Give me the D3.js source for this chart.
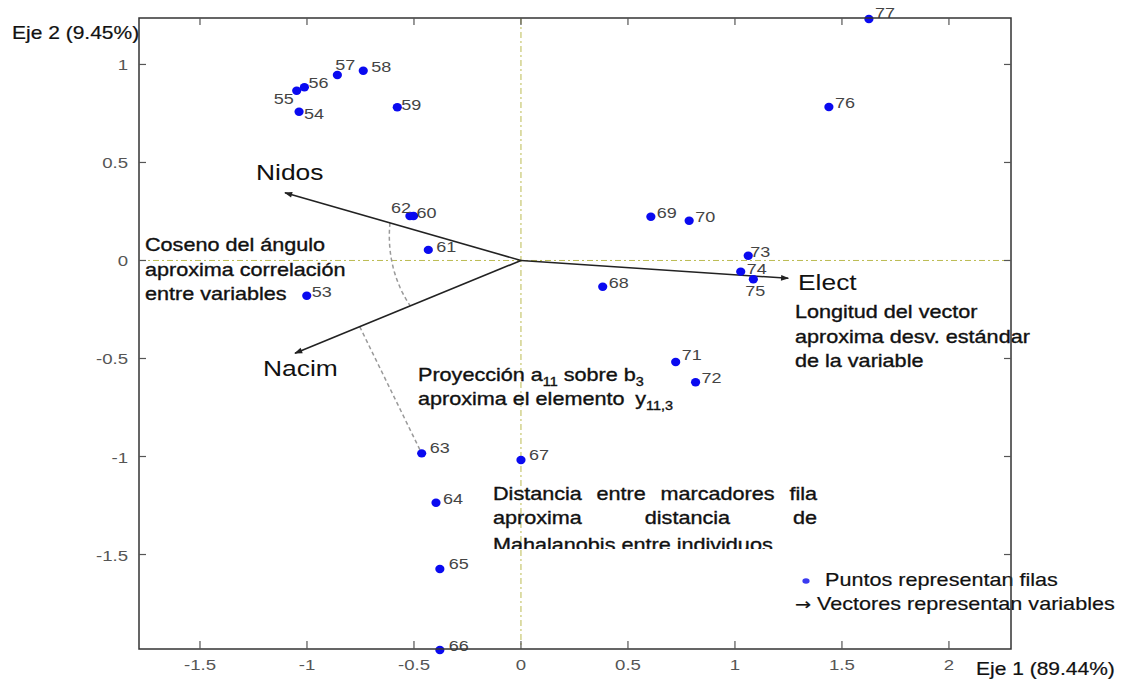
<!DOCTYPE html>
<html>
<head>
<meta charset="utf-8">
<script src="https://cdn.jsdelivr.net/npm/d3@7"></script>
<style>
  html, body { margin: 0; padding: 0; background: #fff; }
  svg { display: block; }
  text { font-family: "Liberation Sans", Arial, sans-serif; }
</style>
</head>
<body>
<svg id="chart" width="1124" height="679"></svg>
<script>
// ---------------- DATA ----------------
const rowIds = ["53","54","55","56","57","58","59","60","61","62","63","64","65","66","67","68","69","70","71","72","73","74","75","76","77"];
const eje1 = [-1.001,-1.037,-1.048,-1.012,-0.858,-0.737,-0.578,-0.502,-0.433,-0.519,-0.464,-0.397,-0.379,-0.379,0.000,0.382,0.607,0.786,0.723,0.816,1.062,1.027,1.086,1.439,1.626];
const eje2 = [-0.180,0.759,0.866,0.884,0.946,0.968,0.782,0.227,0.054,0.227,-0.984,-1.236,-1.574,-1.987,-1.018,-0.134,0.223,0.203,-0.518,-0.621,0.024,-0.057,-0.096,0.783,1.232];

const varNames = ["Nidos","Nacim","Elect"];
const varEje1 = [-1.103,-1.056,1.249];
const varEje2 = [0.346,-0.473,-0.091];

const xTicks = [-1.5,-1,-0.5,0,0.5,1,1.5,2];
const yTicks = [1,0.5,0,-0.5,-1,-1.5];
const xTickLabels = ["-1.5","-1","-0.5","0","0.5","1","1.5","2"];
const yTickLabels = ["1","0.5","0","-0.5","-1","-1.5"];

const xTitle = "Eje 1 (89.44%)";
const yTitle = "Eje 2 (9.45%)";

// ---------------- LAYOUT ----------------
const svg = d3.select("#chart");
const L = 139, R = 1011, T = 18, B = 649;
const x = d3.scaleLinear().domain([-1.785, 2.29]).range([L, R]);
const y = d3.scaleLinear().domain([-1.982, 1.237]).range([B, T]);
const SX = 1.2; // horizontal stretch of the original rendering

function txt(parent, px, py, str, o = {}) {
  const t = parent.append("text")
    .attr("transform", `translate(${px},${py}) scale(${SX},1)`)
    .attr("text-anchor", o.anchor || "start")
    .style("font-size", (o.size || 18) + "px")
    .style("fill", o.fill || "#111");
  if (o.stroke) t.style("stroke", o.fill || "#111").style("stroke-width", o.stroke);
  if (str !== null) t.text(str);
  return t;
}

const defs = svg.append("defs");
defs.append("marker").attr("id", "ah")
  .attr("viewBox", "0 -5 10 10").attr("refX", 9).attr("refY", 0)
  .attr("markerUnits", "userSpaceOnUse")
  .attr("markerWidth", 10).attr("markerHeight", 8).attr("orient", "auto")
  .append("path").attr("d", "M0,-3.6L10,0L0,3.6Z").attr("fill", "#222");
defs.append("clipPath").attr("id", "clipMaha")
  .append("rect").attr("x", 400).attr("y", 470).attr("width", 500).attr("height", 79);

// zero lines (dash-dot)
svg.append("line").attr("x1", x(0)).attr("x2", x(0)).attr("y1", T).attr("y2", B)
  .attr("stroke", "#bcbc52").attr("stroke-width", 1).attr("stroke-dasharray", "6,3,2,3");
svg.append("line").attr("x1", L).attr("x2", R).attr("y1", y(0)).attr("y2", y(0))
  .attr("stroke", "#bcbc52").attr("stroke-width", 1).attr("stroke-dasharray", "6,3,2,3");

// dashed angle arc between Nidos and Nacim (computed from the vectors, in pixel space)
const ox = x(0), oy = y(0);
function pv(i) { return [x(varEje1[i]) - ox, y(varEje2[i]) - oy]; }
const vN = pv(0), vM = pv(1);
const aN = Math.atan2(vN[1], vN[0]), aM = Math.atan2(vM[1], vM[0]);
const rN = Math.hypot(vN[0], vN[1]) * 0.555, rM = Math.hypot(vM[0], vM[1]) * 0.49;
let a0 = aN < 0 ? aN + 2 * Math.PI : aN, a1 = aM < 0 ? aM + 2 * Math.PI : aM;
const arcPts = d3.range(0, 1.0001, 0.05).map(f => {
  const a = a0 + (a1 - a0) * f, r = rN + (rM - rN) * f;
  return [ox + r * Math.cos(a), oy + r * Math.sin(a)];
});
svg.append("path").attr("d", d3.line()(arcPts)).attr("fill", "none")
  .attr("stroke", "#9a9a9a").attr("stroke-width", 1.5).attr("stroke-dasharray", "4,3");

// projection of row 63 onto Nacim
const i63 = rowIds.indexOf("63");
const px63 = eje1[i63], py63 = eje2[i63];
const dX = varEje1[1], dY = varEje2[1];
const tProj = (px63 * dX + py63 * dY) / (dX * dX + dY * dY);
svg.append("line")
  .attr("x1", x(tProj * dX)).attr("y1", y(tProj * dY))
  .attr("x2", x(px63)).attr("y2", y(py63))
  .attr("stroke", "#9a9a9a").attr("stroke-width", 1.5).attr("stroke-dasharray", "4,3");

// variable vectors
varNames.forEach((n, i) => {
  svg.append("line").attr("x1", x(0)).attr("y1", y(0))
    .attr("x2", x(varEje1[i])).attr("y2", y(varEje2[i]))
    .attr("stroke", "#222").attr("stroke-width", 1.6).attr("marker-end", "url(#ah)");
});

// points
const rows = rowIds.map((id, i) => ({ id, e1: eje1[i], e2: eje2[i] }));
svg.append("g").selectAll("ellipse").data(rows).join("ellipse")
  .attr("cx", d => x(d.e1)).attr("cy", d => y(d.e2))
  .attr("rx", 4.6).attr("ry", 4.2).attr("fill", "#0a0af0");

// point labels
const labelOffsets = {
  "55": { dx: -3, dy: 13, anchor: "end" }, "54": { dx: 5, dy: 7 }, "56": { dx: 4, dy: 1 },
  "57": { dx: -2, dy: -5 }, "58": { dx: 8, dy: 1 }, "59": { dx: 4, dy: 3 },
  "62": { dx: 1, dy: -3, anchor: "end" }, "60": { dx: 3, dy: 2 }, "61": { dx: 8, dy: 2 },
  "53": { dx: 5, dy: 1 }, "73": { dx: 2, dy: 1 }, "74": { dx: 6, dy: 2 },
  "75": { dx: -8, dy: 17 }, "63": { dx: 8, dy: 0 }, "67": { dx: 8, dy: 0 },
  "64": { dx: 7, dy: 1 }, "65": { dx: 9, dy: 0 }, "66": { dx: 9, dy: 1 },
  "71": { dx: 6, dy: -2 }, "77": { dx: 6, dy: -1 }
};
const gl = svg.append("g");
rows.forEach(d => {
  const o = labelOffsets[d.id] || { dx: 6, dy: 1 };
  txt(gl, x(d.e1) + o.dx, y(d.e2) + o.dy, d.id, { size: 15, fill: "#444", anchor: o.anchor || "start" });
});

// variable names
const ann = svg.append("g");
const varLabelPos = { Nidos: [256, 180], Nacim: [263, 376], Elect: [798, 290] };
varNames.forEach(n => txt(ann, varLabelPos[n][0], varLabelPos[n][1], n, { size: 22, fill: "#111" }));

// annotation blocks
function block(px, py, lines, lh, o) { lines.forEach((s, k) => txt(ann, px, py + k * lh, s, o)); }
const annStyle = { size: 18, fill: "#111", stroke: 0.35 };
block(145, 251, ["Coseno del ángulo", "aproxima correlación", "entre variables"], 24.5, annStyle);
block(795, 318, ["Longitud del vector", "aproxima desv. estándar", "de la variable"], 24.5, annStyle);

// Proyección with subscripts
const p1 = txt(ann, 418, 381, null, annStyle);
p1.append("tspan").text("Proyección a");
p1.append("tspan").attr("dy", 5).style("font-size", "12px").text("11");
p1.append("tspan").attr("dy", -5).text(" sobre b");
p1.append("tspan").attr("dy", 5).style("font-size", "12px").text("3");
const p2 = txt(ann, 418, 405, null, annStyle);
p2.append("tspan").text("aproxima el elemento");
p2.append("tspan").attr("dx", 9).text("y");
p2.append("tspan").attr("dy", 5).style("font-size", "12px").text("11,3");

// justified block
function justify(parent, left, right, py, line) {
  const words = line.split(" ");
  const ts = words.map(w => txt(parent, 0, py, w, annStyle));
  const widths = ts.map(t => t.node().getComputedTextLength() * SX);
  const gap = (right - left - d3.sum(widths)) / (words.length - 1);
  let cx = left;
  ts.forEach((t, k) => { t.attr("transform", `translate(${cx},${py}) scale(${SX},1)`); cx += widths[k] + gap; });
}
const gd = svg.append("g").attr("clip-path", "url(#clipMaha)");
justify(gd, 493, 817, 500, "Distancia entre marcadores fila");
justify(gd, 493, 817, 524, "aproxima distancia de");
txt(gd, 493, 551, "Mahalanobis entre individuos", annStyle);

// legend
svg.append("ellipse").attr("cx", 806).attr("cy", 581).attr("rx", 3.6).attr("ry", 2.8).attr("fill", "#3a3af0");
txt(svg, 825, 586, "Puntos representan filas", { size: 18, fill: "#111", stroke: 0.2 });
const lg2 = txt(svg, 795, 610, null, { size: 18, fill: "#111", stroke: 0.2 });
lg2.append("tspan").style("font-family", "'DejaVu Sans', sans-serif").style("font-size", "16px").text("→");
lg2.append("tspan").text(" Vectores representan variables");

// frame & ticks (drawn on top)
const fr = svg.append("g");
fr.append("rect").attr("x", L).attr("y", T).attr("width", R - L).attr("height", B - T)
  .attr("fill", "none").attr("stroke", "#333").attr("stroke-width", 1.5);
xTicks.forEach(v => {
  fr.append("line").attr("x1", x(v)).attr("x2", x(v)).attr("y1", B).attr("y2", B - 8).attr("stroke", "#555").attr("stroke-width", 1.2);
  fr.append("line").attr("x1", x(v)).attr("x2", x(v)).attr("y1", T).attr("y2", T + 7).attr("stroke", "#555").attr("stroke-width", 1.2);
});
yTicks.forEach(v => {
  fr.append("line").attr("x1", L).attr("x2", L + 7).attr("y1", y(v)).attr("y2", y(v)).attr("stroke", "#555").attr("stroke-width", 1.2);
  fr.append("line").attr("x1", R).attr("x2", R - 7).attr("y1", y(v)).attr("y2", y(v)).attr("stroke", "#555").attr("stroke-width", 1.2);
});
xTicks.forEach((v, i) => txt(fr, x(v), 670, xTickLabels[i], { size: 15.5, fill: "#555", anchor: "middle" }));
yTicks.forEach((v, i) => txt(fr, 128, y(v) + 6, yTickLabels[i], { size: 15.5, fill: "#555", anchor: "end" }));

// axis titles
txt(svg, 12, 39, yTitle, { size: 17.5, fill: "#111", stroke: 0.2 });
txt(svg, 976, 675, xTitle, { size: 17.5, fill: "#111", stroke: 0.2 });
</script>
</body>
</html>
